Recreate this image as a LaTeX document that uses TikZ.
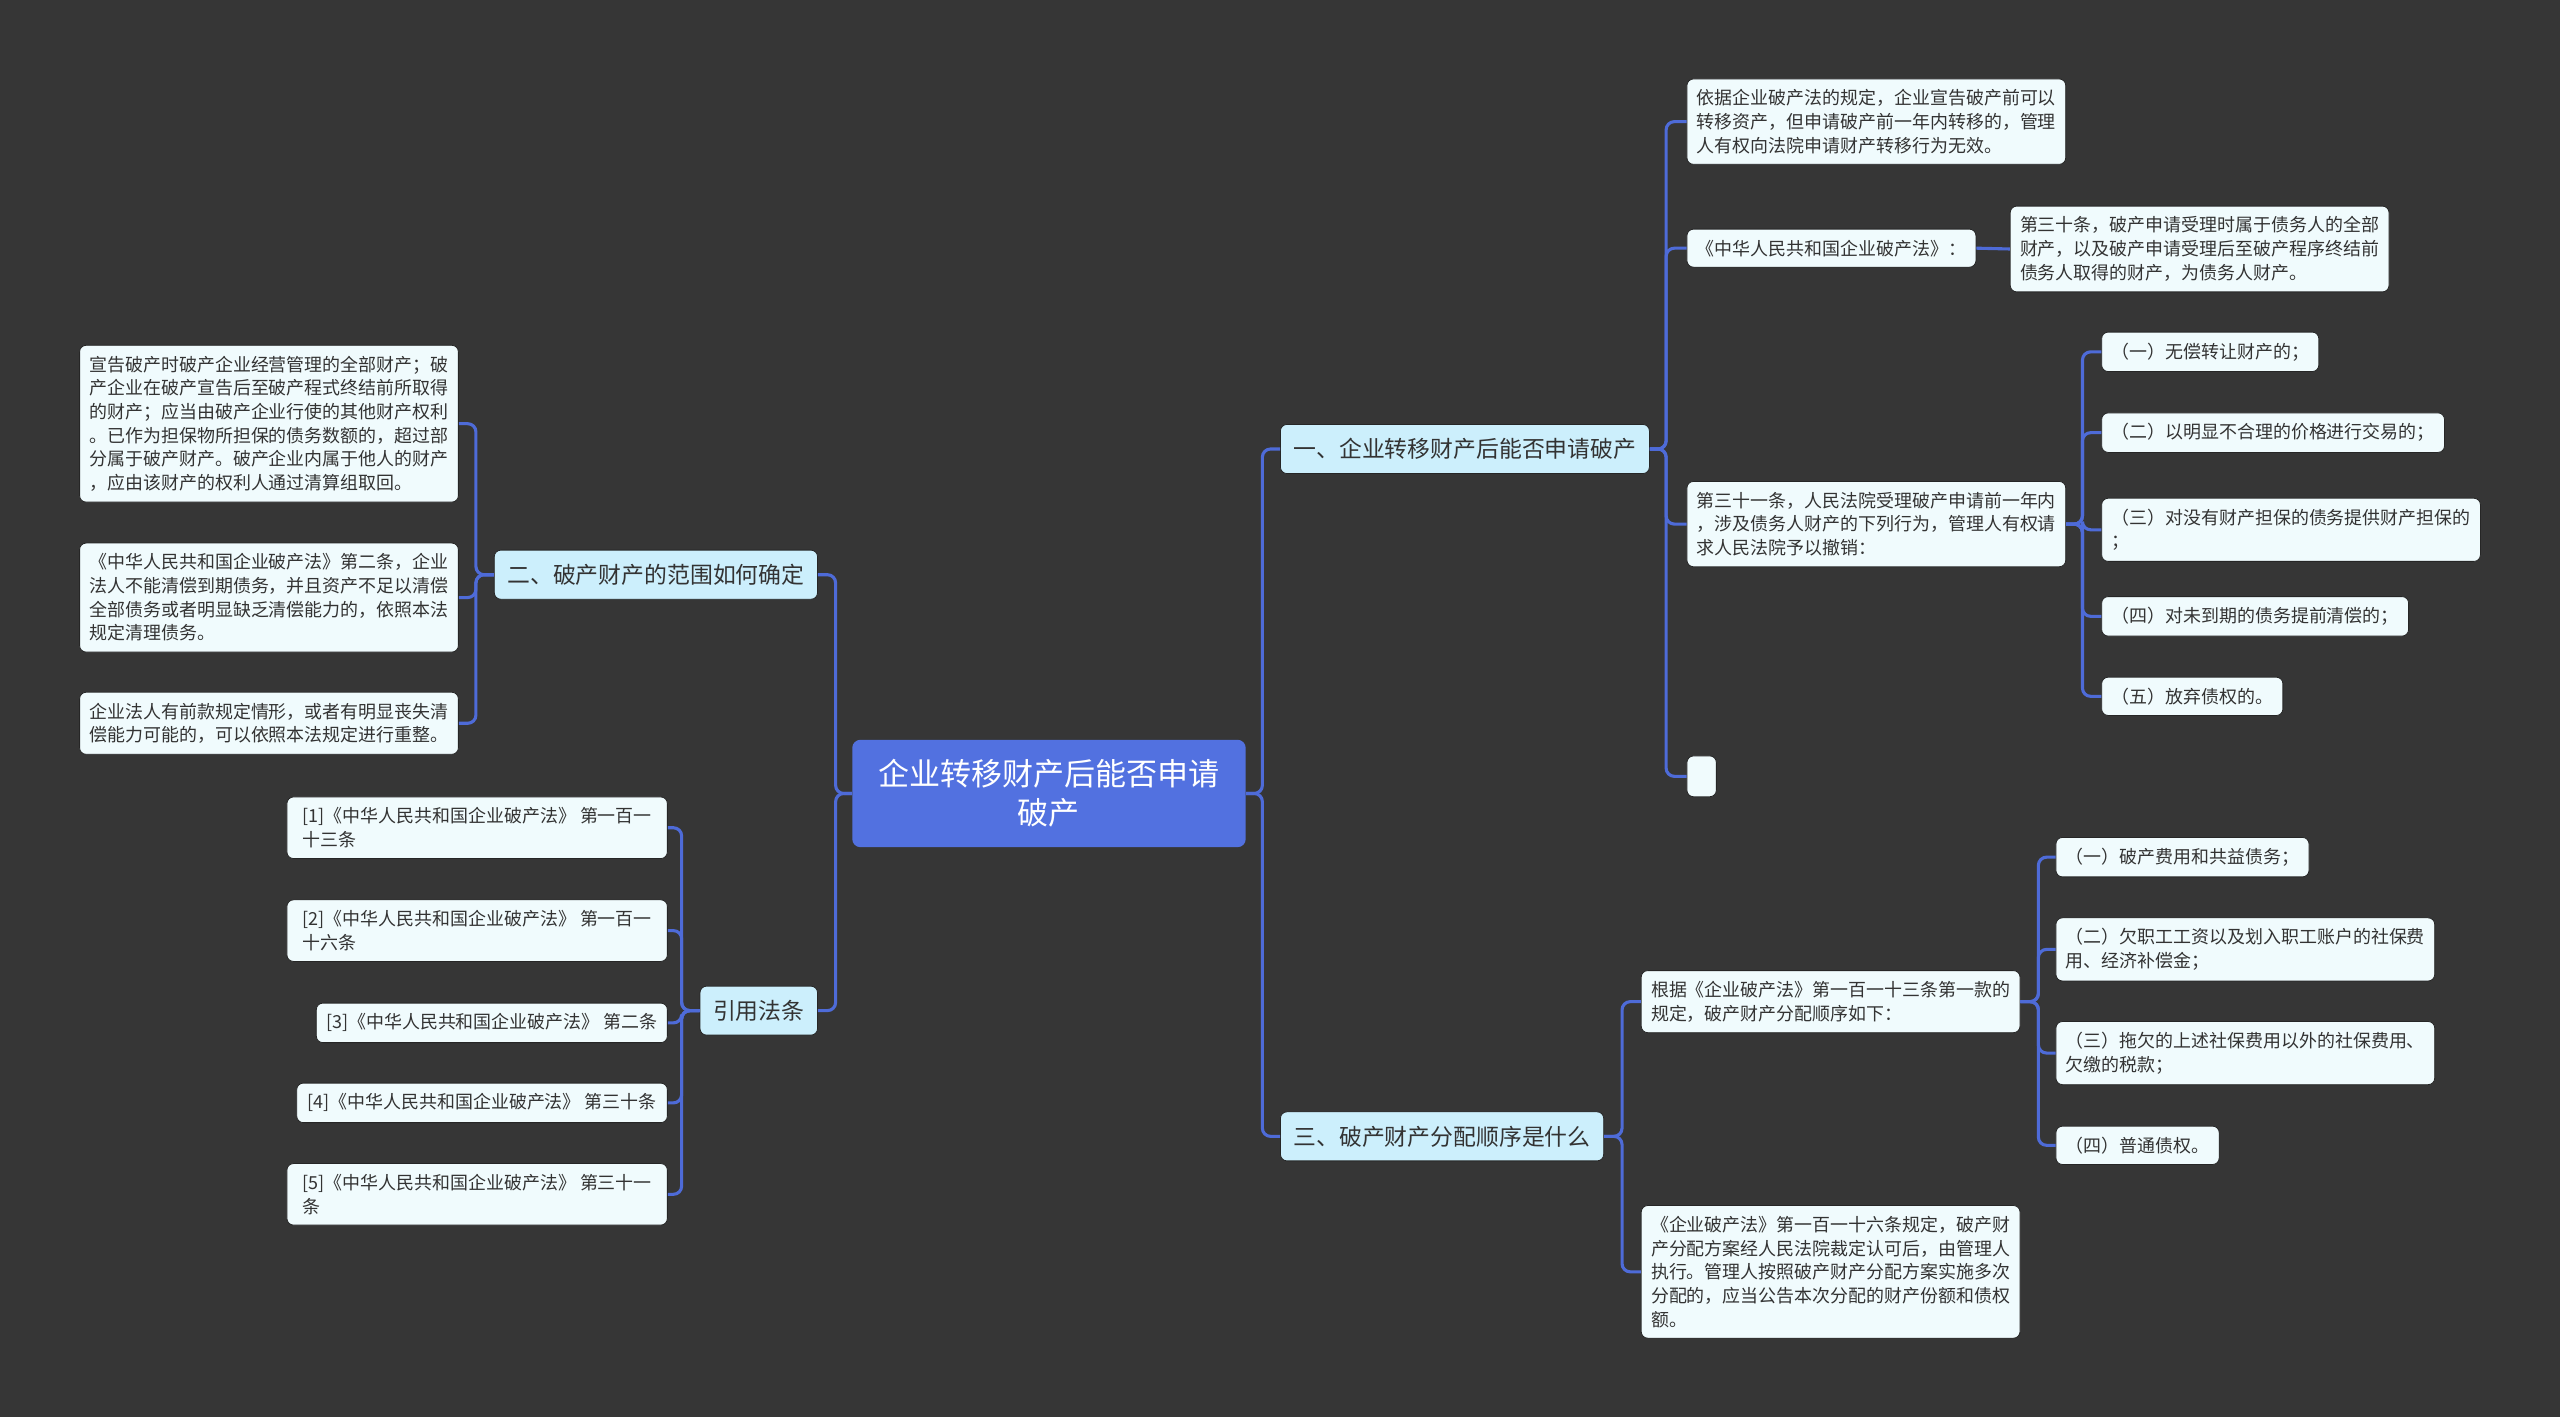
\documentclass[tikz,border=0pt]{standalone}
\usepackage{fontspec}
\setmainfont{Noto Sans CJK SC}
\usepackage{tikz}

\definecolor{bgcol}{HTML}{363636}
\definecolor{rootblue}{HTML}{5271E0}
\definecolor{topiccol}{HTML}{CCEFFC}
\definecolor{leafcol}{HTML}{F0FBFD}
\definecolor{linkcol}{HTML}{4E6BD8}
\definecolor{txtcol}{HTML}{333333}

\begin{document}
\begin{tikzpicture}[x=1pt, y=-1pt,
  rootbox/.style={rectangle, rounded corners=5pt, fill=rootblue, text=white,
                  font=\fontsize{19}{24}\selectfont, align=center,
                  inner xsep=16pt, inner ysep=12pt},
  topicbox/.style={rectangle, rounded corners=4pt, fill=topiccol, draw=black!85,
                   line width=0.5pt, text=txtcol, font=\fontsize{14}{17}\selectfont,
                   inner xsep=8pt, inner ysep=8.5pt},
  leafbox/.style={rectangle, rounded corners=4pt, fill=leafcol, draw=black!85,
                  line width=0.5pt, text=txtcol, font=\fontsize{11}{14.5}\selectfont,
                  align=left, inner xsep=6pt, inner ysep=6.5pt},
  link/.style={draw=linkcol, line width=1.9pt, rounded corners=5pt}]
  \fill[bgcol] (0,0) rectangle (1568,868);
  \useasboundingbox (0,0) rectangle (1568,868);

  \node[rootbox] (root) at (642.5,486) {企业转移财产后能否申请\\破产};

  \node[topicbox, anchor=east] (two) at (501,352) {二、破产财产的范围如何确定};
  \node[topicbox, anchor=east] (cite) at (501,619) {引用法条};
  \node[topicbox, anchor=west] (one) at (784,275) {一、企业转移财产后能否申请破产};
  \node[topicbox, anchor=west] (three) at (784,696) {三、破产财产分配顺序是什么};

  \node[leafbox, anchor=east] (scope1) at (281,259.5)
    {宣告破产时破产企业经营管理的全部财产；破\\产企业在破产宣告后至破产程式终结前所取得\\的财产；应当由破产企业行使的其他财产权利\\。已作为担保物所担保的债务数额的，超过部\\分属于破产财产。破产企业内属于他人的财产\\，应由该财产的权利人通过清算组取回。};
  \node[leafbox, anchor=east] (scope2) at (281,366)
    {《中华人民共和国企业破产法》第二条，企业\\法人不能清偿到期债务，并且资产不足以清偿\\全部债务或者明显缺乏清偿能力的，依照本法\\规定清理债务。};
  \node[leafbox, anchor=east] (scope3) at (281,443)
    {企业法人有前款规定情形，或者有明显丧失清\\偿能力可能的，可以依照本法规定进行重整。};

  \node[leafbox, anchor=east, minimum width=233pt] (ref1) at (409,507) {[1]《中华人民共和国企业破产法》 第一百一\\十三条};
  \node[leafbox, anchor=east, minimum width=233pt] (ref2) at (409,570) {[2]《中华人民共和国企业破产法》 第一百一\\十六条};
  \node[leafbox, anchor=east] (ref3) at (409,626.5) {[3]《中华人民共和国企业破产法》 第二条};
  \node[leafbox, anchor=east, minimum width=227pt] (ref4) at (409,675.5) {[4]《中华人民共和国企业破产法》 第三十条};
  \node[leafbox, anchor=east, minimum width=233pt] (ref5) at (409,731.5) {[5]《中华人民共和国企业破产法》 第三十一\\条};

  \node[leafbox, anchor=west] (move1) at (1033,74.5)
    {依据企业破产法的规定，企业宣告破产前可以\\转移资产，但申请破产前一年内转移的，管理\\人有权向法院申请财产转移行为无效。};
  \node[leafbox, anchor=west] (move2) at (1033,152) {《中华人民共和国企业破产法》：};
  \node[leafbox, anchor=west] (art30) at (1231,152.5)
    {第三十条，破产申请受理时属于债务人的全部\\财产，以及破产申请受理后至破产程序终结前\\债务人取得的财产，为债务人财产。};
  \node[leafbox, anchor=west] (move3) at (1033,321)
    {第三十一条，人民法院受理破产申请前一年内\\，涉及债务人财产的下列行为，管理人有权请\\求人民法院予以撤销：};
  \node[leafbox, anchor=west] (act1) at (1287,215.5) {（一）无偿转让财产的；};
  \node[leafbox, anchor=west] (act2) at (1287,265) {（二）以明显不合理的价格进行交易的；};
  \node[leafbox, anchor=west] (act3) at (1287,324.5) {（三）对没有财产担保的债务提供财产担保的\\；};
  \node[leafbox, anchor=west] (act4) at (1287,377.5) {（四）对未到期的债务提前清偿的；};
  \node[leafbox, anchor=west] (act5) at (1287,426.5) {（五）放弃债权的。};
  \node[leafbox, anchor=west, minimum width=18pt, minimum height=25pt, inner sep=0pt] (move4) at (1033,475.5) {};

  \node[leafbox, anchor=west] (order1) at (1005,613.5)
    {根据《企业破产法》第一百一十三条第一款的\\规定，破产财产分配顺序如下：};
  \node[leafbox, anchor=west] (rank1) at (1259,525) {（一）破产费用和共益债务；};
  \node[leafbox, anchor=west] (rank2) at (1259,581.5) {（二）欠职工工资以及划入职工账户的社保费\\用、经济补偿金；};
  \node[leafbox, anchor=west] (rank3) at (1259,645) {（三）拖欠的上述社保费用以外的社保费用、\\欠缴的税款；};
  \node[leafbox, anchor=west] (rank4) at (1259,701.5) {（四）普通债权。};
  \node[leafbox, anchor=west] (order2) at (1005,779)
    {《企业破产法》第一百一十六条规定，破产财\\产分配方案经人民法院裁定认可后，由管理人\\执行。管理人按照破产财产分配方案实施多次\\分配的，应当公告本次分配的财产份额和债权\\额。};

  \draw[link] (root.west) -- ++(-10,0) |- (two.east);
  \draw[link] (root.west) -- ++(-10,0) |- (cite.east);
  \draw[link] (root.east) -- ++(10,0) |- (one.west);
  \draw[link] (root.east) -- ++(10,0) |- (three.west);

  \draw[link] (two.west) -- ++(-11,0) |- (scope1.east);
  \draw[link] (two.west) -- ++(-11,0) |- (scope2.east);
  \draw[link] (two.west) -- ++(-11,0) |- (scope3.east);

  \draw[link] (cite.west) -- ++(-11,0) |- (ref1.east);
  \draw[link] (cite.west) -- ++(-11,0) |- (ref2.east);
  \draw[link] (cite.west) -- ++(-11,0) |- (ref3.east);
  \draw[link] (cite.west) -- ++(-11,0) |- (ref4.east);
  \draw[link] (cite.west) -- ++(-11,0) |- (ref5.east);

  \draw[link] (one.east) -- ++(10,0) |- (move1.west);
  \draw[link] (one.east) -- ++(10,0) |- (move2.west);
  \draw[link] (one.east) -- ++(10,0) |- (move3.west);
  \draw[link] (one.east) -- ++(10,0) |- (move4.west);
  \draw[link] (move2.east) -- (art30.west);

  \draw[link] (move3.east) -- ++(10,0) |- (act1.west);
  \draw[link] (move3.east) -- ++(10,0) |- (act2.west);
  \draw[link] (move3.east) -- ++(10,0) |- (act3.west);
  \draw[link] (move3.east) -- ++(10,0) |- (act4.west);
  \draw[link] (move3.east) -- ++(10,0) |- (act5.west);

  \draw[link] (three.east) -- ++(11,0) |- (order1.west);
  \draw[link] (three.east) -- ++(11,0) |- (order2.west);

  \draw[link] (order1.east) -- ++(11,0) |- (rank1.west);
  \draw[link] (order1.east) -- ++(11,0) |- (rank2.west);
  \draw[link] (order1.east) -- ++(11,0) |- (rank3.west);
  \draw[link] (order1.east) -- ++(11,0) |- (rank4.west);
\end{tikzpicture}
\end{document}
